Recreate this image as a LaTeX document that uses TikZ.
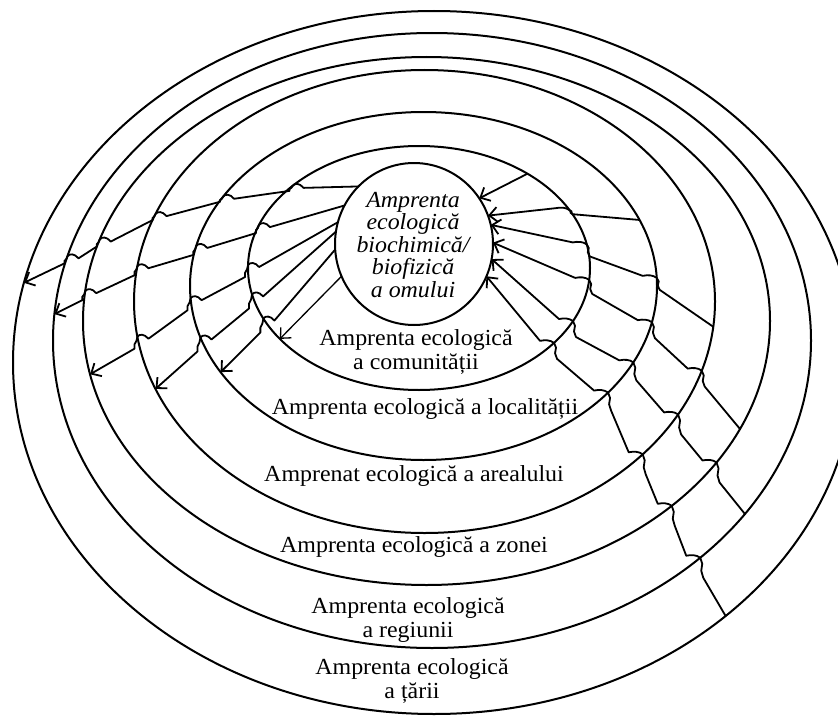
\documentclass[tikz,border=0pt]{standalone}
\usepackage{fontspec}
\setmainfont{Liberation Serif}[FakeStretch=1.04]
\usetikzlibrary{shapes.geometric,arrows.meta}

\begin{document}
\begin{tikzpicture}[x=1pt, y=-1pt,
  ring/.style={draw, ellipse, inner sep=0pt, outer sep=0pt, line width=2pt},
  ringtext/.style={inner sep=0pt, align=center, font=\fontsize{23}{24}\selectfont},
  conn/.style={line width=1.8pt, line join=round, line cap=round,
    -{Straight Barb[length=8pt,width=15pt]}},
  fine/.style={line width=1.3pt},
  % outward crossing (leftward): small hump on the ring, then a short drop
  stepL/.style={to path={
    -- ([shift={(11,2)}]\tikztotarget)
    .. controls ([shift={(7,-3)}]\tikztotarget) and ([shift={(2,-3)}]\tikztotarget) .. (\tikztotarget)
    -- ([shift={(-1,{0.35*#1})}]\tikztotarget)
    -- ([shift={(-3,{0.65*#1})}]\tikztotarget)
    -- ([shift={(-3,#1)}]\tikztotarget)}},
  stepL/.default=12,
  % inward crossing (leftward, upward): short rise onto the ring, then a hump
  stepR/.style={to path={
    -- ([shift={(3,#1)}]\tikztotarget)
    -- ([shift={(1,{0.65*#1})}]\tikztotarget)
    -- ([shift={(2,{0.3*#1})}]\tikztotarget)
    -- (\tikztotarget)
    .. controls ([shift={(-4,-3)}]\tikztotarget) and ([shift={(-9,-3)}]\tikztotarget) .. ([shift={(-14,-2)}]\tikztotarget)}},
  stepR/.default=18]

\fill[white] (0,0) rectangle (838,717);
\useasboundingbox (0,0) rectangle (838,717);

% nested footprint rings
\node[ring, minimum width=842pt, minimum height=703pt] (tar) at (434,362.5) {};
\node[ring, minimum width=758pt, minimum height=615pt] (reg) at (432,340.5) {};
\node[ring, minimum width=687pt, minimum height=528pt] (zon) at (426.5,321) {};
\node[ring, minimum width=581pt, minimum height=463pt] (are) at (424.5,301.5) {};
\node[ring, minimum width=467pt, minimum height=348pt] (loc) at (423.5,286) {};
\node[ring, minimum width=342pt, minimum height=244pt] (com) at (419,268) {};
\node[ring, minimum width=158pt, minimum height=162pt] (omul) at (414,244) {};

% ring captions
\node[ringtext, font=\fontsize{23}{22.5}\selectfont\itshape] (tOmul) at (413,245)
  {Amprenta\\ecologică\\biochimică/\\biofizică\\a omului};
\node[ringtext] (tCom) at (416,352) {Amprenta ecologică\\a comunității};
\node[ringtext] (tLoc) at (425,409) {Amprenta ecologică a localității};
\node[ringtext] (tAre) at (414,476) {Amprenat ecologică a arealului};
\node[ringtext] (tZon) at (414,547) {Amprenta ecologică a zonei};
\node[ringtext] (tReg) at (408,620) {Amprenta ecologică\\a regiunii};
\node[ringtext] (tTar) at (412,681) {Amprenta ecologică\\a țării};

% outgoing links (left side)
\draw[conn] (omul.134) to[stepL=5] (com.147.7) to[stepL=5] (loc.156.1)
  to[stepL=6] (are.162.5) to[stepL=7] (zon.166.1) to[stepL=7] (reg.167.3) -- (tar.169.7);
\draw[conn] (omul.151.2) to[stepL=8] (com.165.7) to[stepL=9] (loc.170.3)
  to[stepL=9] (are.173.9) to[stepL=9] (zon.175.7) -- (reg.176.4);
\draw[conn] (omul.164.1) to[stepL=12] (com.179) to[stepL=12] (loc.183.4)
  to[stepL=12] (are.187.7) -- (zon.189.7);
\draw[conn] (omul.171.6) to[stepL=14] (com.189.2) to[stepL=14] (loc.193.2) -- (are.198.3);
\draw[conn] (omul.184.1) to[stepL=14] (com.198.5) -- (loc.203.6);
\draw[conn, fine] (omul.204) -- (com.207.2);

% incoming links (right side)
\draw[conn] (com.41.3) -- (omul.35.7);
\draw[conn] (loc.17.9) to[stepR=4] (com.21) -- (omul.21.4);
\draw[conn] (are.355.7) to[stepR=12] (loc.2) to[stepR=12] (com.8.5) -- (omul.14.6);
\draw[conn] (zon.341.5) to[stepR=16] (are.346.5) to[stepR=16] (loc.351)
  to[stepR=14] (com.356.9) -- (omul.1.5);
\draw[conn] (reg.331) to[stepR=20] (zon.334.1) to[stepR=20] (are.336.3)
  to[stepR=18] (loc.340.1) to[stepR=16] (com.341.8) -- (omul.349.6);
\draw[conn] (tar.319.2) to[stepR=20] (reg.321.9) to[stepR=20] (zon.323.9)
  to[stepR=20] (are.325.7) to[stepR=18] (loc.330.2) to[stepR=16] (com.331.9) -- (omul.336.4);
\end{tikzpicture}
\end{document}
